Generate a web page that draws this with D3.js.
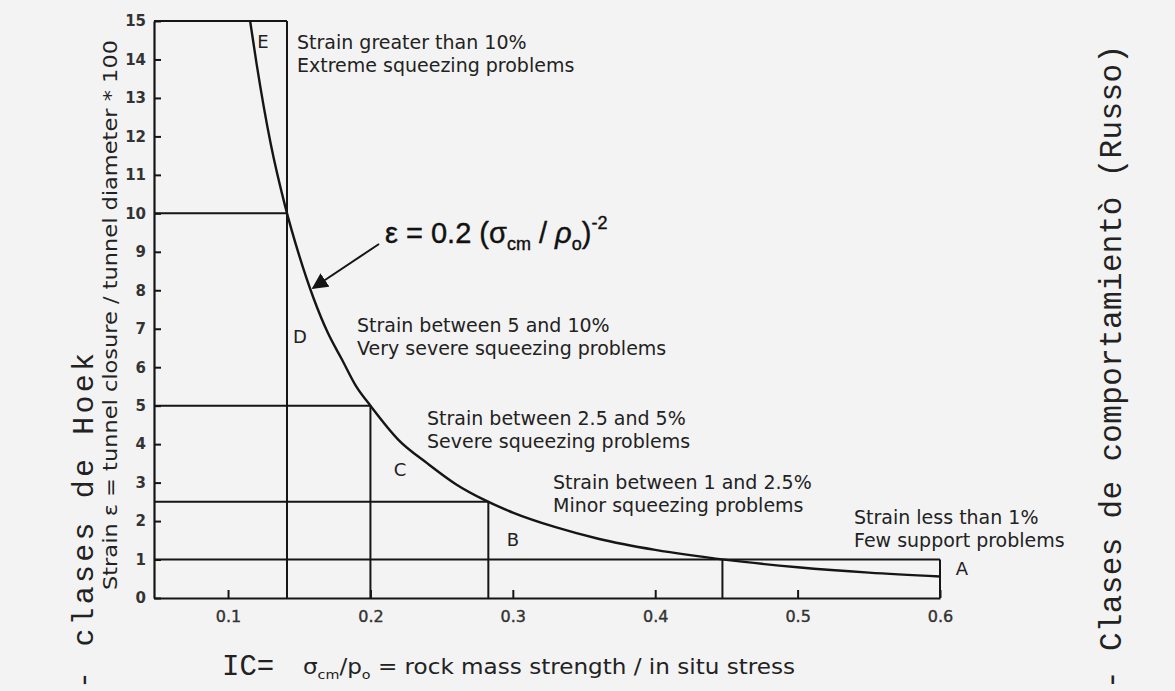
<!DOCTYPE html>
<html>
<head>
<meta charset="utf-8">
<script src="https://cdn.jsdelivr.net/npm/d3@7"></script>
<style>
  html, body { margin: 0; padding: 0; background: #f3f3f3; }
  svg { display: block; }
</style>
</head>
<body>
<script>
// ---------- data ----------
const xTickValues = [0.1, 0.2, 0.3, 0.4, 0.5, 0.6];
const xTickLabels = ["0.1", "0.2", "0.3", "0.4", "0.5", "0.6"];
const yTickValues = [0, 1, 2, 3, 4, 5, 6, 7, 8, 9, 10, 11, 12, 13, 14, 15];
const yTickLabels = ["0", "1", "2", "3", "4", "5", "6", "7", "8", "9", "10", "11", "12", "13", "14", "15"];

// curve: IC (sigma_cm / p0) vs strain (%)
const curveIC     = [0.1155, 0.12, 0.13, 0.14, 0.15, 0.16, 0.17, 0.18, 0.19, 0.20, 0.22, 0.24, 0.26, 0.28, 0.30, 0.33, 0.36, 0.40, 0.45, 0.50, 0.55, 0.60];
const curveStrain = [15.0, 13.9, 11.8, 10.2, 8.9, 7.8, 6.9, 6.2, 5.5, 5.0, 4.1, 3.5, 2.96, 2.55, 2.22, 1.84, 1.54, 1.25, 0.99, 0.80, 0.66, 0.56];

// class boundary lines
const hLineStrain = [15, 10, 5, 2.5, 1];
const hLineEndIC  = [0.1414, 0.1414, 0.2, 0.2828, 0.6];
const vLineIC     = [0.1414, 0.2, 0.2828, 0.4472, 0.6];
const vLineTop    = [15, 5, 2.5, 1, 1];

// classes
const classLetters = ["E", "D", "C", "B", "A"];
const classLine1 = ["Strain greater than 10%", "Strain between 5 and 10%", "Strain between 2.5 and 5%", "Strain between 1 and 2.5%", "Strain less than 1%"];
const classLine2 = ["Extreme squeezing problems", "Very severe squeezing problems", "Severe squeezing problems", "Minor squeezing problems", "Few support problems"];

// ---------- layout ----------
const W = 1175, H = 691;
const letterPos = [[263, 42], [300, 337], [400, 470], [513, 540], [962, 569]];
const descPos   = [[297, 42], [357, 325], [427, 418], [553, 482], [854, 517]];
const lineGap = 23;

const svg = d3.select("body").append("svg").attr("width", W).attr("height", H);
svg.append("rect").attr("width", W).attr("height", H).attr("fill", "#f3f3f3");

const x = d3.scaleLinear().domain([0.048, 0.6]).range([154, 940]);
const y = d3.scaleLinear().domain([0, 15]).range([598, 21]);

const ink = "#151515";
const sans = "'DejaVu Sans', sans-serif";
const mono = "'Liberation Mono', 'DejaVu Sans Mono', monospace";

// axes
const yAxis = d3.axisLeft(y).tickValues(yTickValues).tickFormat((d, i) => yTickLabels[i])
  .tickSizeInner(-7).tickSizeOuter(0).tickPadding(8);
const gy = svg.append("g").attr("transform", `translate(${x(0.048)},0)`).call(yAxis);
gy.select(".domain").attr("stroke", ink).attr("stroke-width", 2.2);
gy.selectAll(".tick line").attr("stroke", ink).attr("stroke-width", 2);
gy.selectAll(".tick text").attr("font-family", sans).attr("font-size", 15).attr("font-weight", "bold").attr("fill", "#333");

const xAxis = d3.axisBottom(x).tickValues(xTickValues).tickFormat((d, i) => xTickLabels[i])
  .tickSizeInner(-8).tickSizeOuter(0).tickPadding(13);
const gx = svg.append("g").attr("transform", `translate(0,${y(0)})`).call(xAxis);
gx.select(".domain").attr("stroke", ink).attr("stroke-width", 2.2);
gx.selectAll(".tick line").attr("stroke", ink).attr("stroke-width", 2);
gx.selectAll(".tick text").attr("font-family", sans).attr("font-size", 16).attr("fill", "#333")
  .attr("stroke", "#333").attr("stroke-width", 0.4);

// boundary lines
svg.append("g").selectAll("line").data(hLineStrain).join("line")
  .attr("x1", x(0.048)).attr("x2", (d, i) => x(hLineEndIC[i]))
  .attr("y1", d => y(d)).attr("y2", d => y(d))
  .attr("stroke", ink).attr("stroke-width", 2);
svg.append("g").selectAll("line").data(vLineIC).join("line")
  .attr("x1", d => x(d)).attr("x2", d => x(d))
  .attr("y1", y(0)).attr("y2", (d, i) => y(vLineTop[i]))
  .attr("stroke", ink).attr("stroke-width", 2);

// curve
const pts = curveIC.map((v, i) => [v, curveStrain[i]]);
svg.append("path").datum(pts)
  .attr("d", d3.line().x(d => x(d[0])).y(d => y(d[1])).curve(d3.curveMonotoneX))
  .attr("fill", "none").attr("stroke", ink).attr("stroke-width", 2.4);

// class letters and descriptions
svg.append("g").selectAll("text").data(classLetters).join("text")
  .attr("x", (d, i) => letterPos[i][0]).attr("y", (d, i) => letterPos[i][1])
  .attr("dy", "0.35em").attr("text-anchor", "middle")
  .attr("font-family", sans).attr("font-size", 18).attr("fill", "#222").text(d => d);

const desc = svg.append("g").selectAll("g").data(classLine1).join("g");
desc.append("text").attr("x", (d, i) => descPos[i][0]).attr("y", (d, i) => descPos[i][1])
  .attr("dy", "0.35em").attr("font-family", sans).attr("font-size", 19).attr("fill", "#222").text(d => d);
desc.append("text").attr("x", (d, i) => descPos[i][0]).attr("y", (d, i) => descPos[i][1] + lineGap)
  .attr("dy", "0.35em").attr("font-family", sans).attr("font-size", 19).attr("fill", "#222").text((d, i) => classLine2[i]);

// formula
const f = svg.append("text").attr("x", 385).attr("y", 243)
  .attr("font-family", "'Liberation Sans', Arial, sans-serif").attr("font-size", 29).attr("fill", "#111")
  .attr("stroke", "#111").attr("stroke-width", 0.4);
f.append("tspan").text("ε = 0.2 (σ");
f.append("tspan").attr("font-size", 18).attr("dy", 7).text("cm");
f.append("tspan").attr("dy", -7).text(" / ");
f.append("tspan").attr("font-style", "italic").text("ρ");
f.append("tspan").attr("font-size", 18).attr("dy", 7).text("o");
f.append("tspan").attr("dy", -7).text(")");
f.append("tspan").attr("font-size", 18).attr("dy", -14).text("-2");

// arrow
const defs = svg.append("defs");
defs.append("marker").attr("id", "ah").attr("viewBox", "0 0 10 10").attr("refX", 9).attr("refY", 5)
  .attr("markerWidth", 8).attr("markerHeight", 8).attr("orient", "auto")
  .append("path").attr("d", "M0,0 L10,5 L0,10 z").attr("fill", ink);
svg.append("line").attr("x1", 379).attr("y1", 244).attr("x2", 313).attr("y2", 288)
  .attr("stroke", ink).attr("stroke-width", 2).attr("marker-end", "url(#ah)");

// x axis title
svg.append("text").attr("x", 222).attr("y", 675).attr("font-family", mono).attr("font-size", 29)
  .attr("fill", "#222").text("IC=");
const xt = svg.append("text").attr("x", 303).attr("y", 674).attr("font-family", sans).attr("font-size", 21).attr("fill", "#222")
  .attr("textLength", 492).attr("lengthAdjust", "spacingAndGlyphs");
xt.append("tspan").text("σ");
xt.append("tspan").attr("font-size", 13).attr("dy", 5).text("cm");
xt.append("tspan").attr("dy", -5).text("/p");
xt.append("tspan").attr("font-size", 13).attr("dy", 5).text("o");
xt.append("tspan").attr("dy", -5).text(" = rock mass strength / in situ stress");

// y axis title
svg.append("text").attr("transform", "translate(117,315) rotate(-90)").attr("text-anchor", "middle")
  .attr("font-family", sans).attr("font-size", 19).attr("fill", "#222")
  .attr("textLength", 550).attr("lengthAdjust", "spacingAndGlyphs")
  .text("Strain ε = tunnel closure / tunnel diameter * 100");

// side labels (typewriter)
svg.append("text").attr("transform", "translate(93,689) rotate(-90)").attr("text-anchor", "start")
  .attr("font-family", mono).attr("font-size", 30).attr("fill", "#222")
  .attr("textLength", 336).attr("lengthAdjust", "spacing").text("- clases de Hoek");
svg.append("text").attr("transform", "translate(1121,689) rotate(-90)").attr("text-anchor", "start")
  .attr("font-family", mono).attr("font-size", 31).attr("fill", "#222")
  .attr("textLength", 644).attr("lengthAdjust", "spacing").text("- Clases de comportamientò (Russo)");
</script>
</body>
</html>
